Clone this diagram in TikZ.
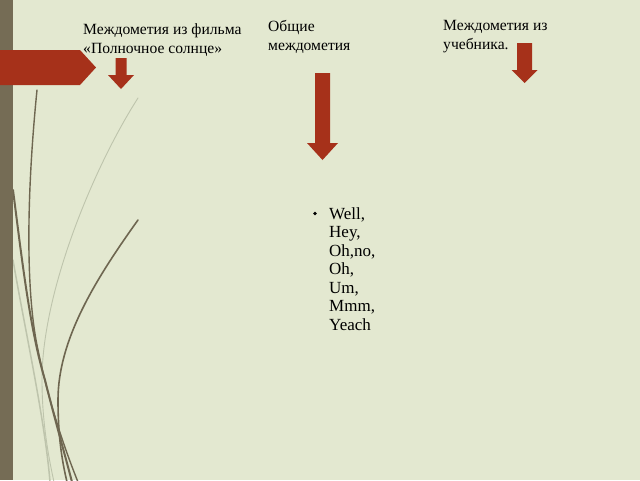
\documentclass[tikz,border=0pt]{standalone}
\usepackage{xcolor}
\usepackage{fontspec}
\setmainfont{Liberation Serif}
\usetikzlibrary{positioning}

\definecolor{slidebg}{RGB}{227,232,208}
\definecolor{barbrown}{RGB}{117,108,85}
\definecolor{arrowred}{RGB}{166,49,26}
\definecolor{stemdark}{RGB}{110,102,80}
\definecolor{stemlight}{RGB}{190,196,172}

% down arrow: centre x, top y, head start y, tip y, half shaft, half head
\newcommand{\redpointer}[6]{%
  \fill[arrowred] (#1-#5,#2) -- (#1+#5,#2) -- (#1+#5,#3) -- (#1+#6,#3) -- (#1,#4)
    -- (#1-#6,#3) -- (#1-#5,#3) -- cycle;}

\begin{document}
\begin{tikzpicture}[x=1pt, y=-1pt]
\tikzstyle{caption} = [anchor=base west, inner sep=0pt, align=left, font=\fontsize{15.6}{19}\selectfont]
\tikzstyle{stem} = [line cap=round]

\fill[slidebg] (0,0) rectangle (640,480);
\useasboundingbox (0,0) rectangle (640,480);

% decorative stems
\draw[stem, stemlight, line width=0.9pt] (138,98) .. controls (95,165) and (42,290) .. (42,380) .. controls (42,420) and (48,455) .. (54,482);
\draw[stem, stemlight, line width=1.5pt] (13,260) .. controls (25,330) and (45,420) .. (50,482);
\draw[stem, stemdark, line width=1.4pt] (37,90) .. controls (27,190) and (25,290) .. (38,350) .. controls (48,400) and (65,450) .. (78,482);
\draw[stem, stemdark, line width=2pt] (13,190) .. controls (22,260) and (30,330) .. (45,380) .. controls (55,420) and (65,455) .. (72,482);
\draw[stem, stemdark, line width=1.6pt] (138,220) .. controls (95,280) and (58,340) .. (58,400) .. controls (58,440) and (63,465) .. (67,482);

\fill[barbrown] (0,0) rectangle (13,480);

% banner
\fill[arrowred] (0,50) -- (80,50) -- (96,67.5) -- (80,85) -- (0,85) -- cycle;

% headings (base = last line)
\node (film) [caption] at (83,53) {Междометия из фильма\\«Полночное солнце»};
\node (common) [caption] at (268,50) {Общие\\междометия};
\node (book) [caption] at (443,49) {Междометия из\\учебника.};

\redpointer{121}{58}{75}{89}{5.5}{13}
\redpointer{322.5}{73}{143}{160}{7.5}{15.5}
\redpointer{524.5}{43}{70}{83}{7.5}{13}

% list
\node (dot) [circle, fill=black, inner sep=0pt, minimum size=3.6pt] at (315,213.5) {};
\node (words) [caption, font=\fontsize{17}{18.5}\selectfont] at (329,330) {Well,\\Hey,\\Oh,no,\\Oh,\\Um,\\Mmm,\\Yeach};

\end{tikzpicture}
\end{document}
